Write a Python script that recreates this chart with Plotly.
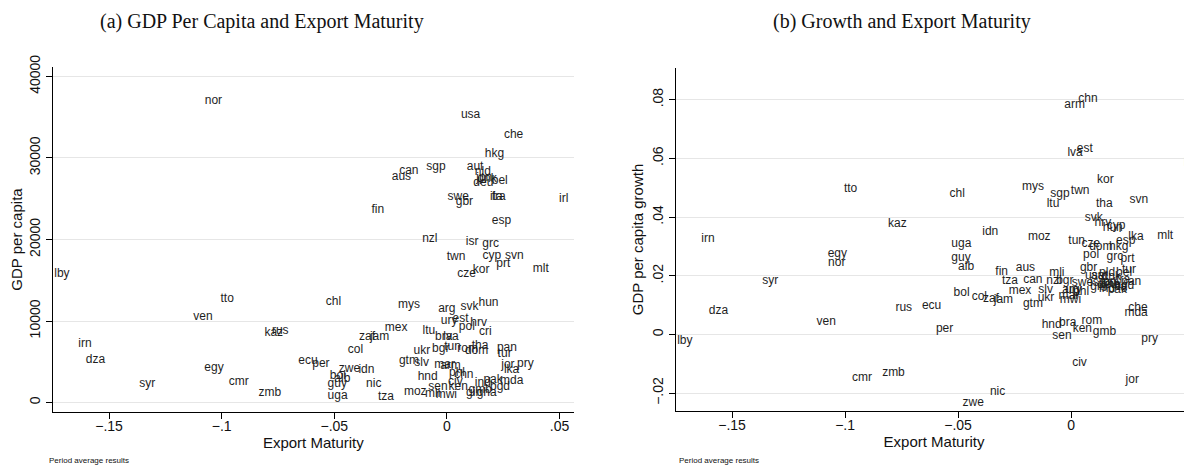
import plotly.graph_objects as go

countries = ["nor","usa","che","hkg","can","aus","sgp","aut","nld","dnk","jpn","deu","bel","swe","gbr","ita","fra","irl","fin","esp",
             "nzl","isr","grc","twn","cyp","svn","prt","kor","cze","mlt","chl","mys","arg","svk","hun","ury","est","pol","hrv","cri",
             "mex","ltu","zaf","jam","bra","lva","ukr","bgr","tun","rom","dom","tha","pan","tur","gtm","slv","mar","arm","jor","pry",
             "lka","hnd","phl","chn","pak","civ","ind","mda","bgd","ken","sen","moz","mli","mwi","gin","gha","gmb","nic","tza","col",
             "ecu","per","zwe","idn","bol","alb","guy","uga","lby","tto","ven","kaz","rus","irn","dza","egy","syr","cmr","zmb"]

maturity = [-0.1075,0.0062,0.0253,0.0168,-0.0212,-0.0245,-0.0092,0.0088,0.0124,0.0135,0.0130,0.0117,0.0199,0.0003,0.0039,0.0191,0.0199,0.0498,-0.0335,0.0199,
            -0.0110,0.0084,0.0157,-0.0001,0.0158,0.0258,0.0219,0.0115,0.0046,0.0381,-0.0538,-0.0217,-0.0039,0.0060,0.0140,-0.0027,0.0025,0.0053,0.0104,0.0142,
            -0.0276,-0.0108,-0.0390,-0.0342,-0.0053,-0.0016,-0.0148,-0.0066,-0.0012,0.0046,0.0080,0.0110,0.0222,0.0225,-0.0213,-0.0145,-0.0056,-0.0030,0.0241,0.0311,
            0.0253,-0.0130,0.0009,0.0032,0.0162,0.0005,0.0124,0.0236,0.0191,0.0007,-0.0083,-0.0191,-0.0097,-0.0050,0.0085,0.0132,0.0096,-0.0359,-0.0306,-0.0440,
            -0.0660,-0.0598,-0.0480,-0.0393,-0.0520,-0.0500,-0.0530,-0.0530,-0.1743,-0.1005,-0.1126,-0.0810,-0.0777,-0.1636,-0.1603,-0.1077,-0.1366,-0.0969,-0.0836]

gdp_pc = [36990,35280,32790,30450,28400,27710,28930,28860,28250,27400,27600,26900,27220,25180,24640,25250,25200,24970,23620,22230,
          20060,19730,19450,17890,18010,18010,16990,16260,15770,16380,12370,11960,11440,11680,12250,10040,10210,9300,9720,8690,
          9180,8770,8070,8000,8000,8000,6360,6530,6850,6530,6360,6930,6650,5950,5130,4810,4600,4480,4560,4720,
          3990,3170,3580,3370,2760,2550,2350,2640,1860,1940,1860,1330,1040,920,1130,1130,1530,2270,710,6440,
          5090,4720,4110,3990,3300,2900,2300,800,15770,12660,10450,8570,8740,7140,5210,4200,2230,2480,1130]

growth = [0.0242,0.0200,0.0089,0.0299,0.0185,0.0225,0.0477,0.0200,0.0210,0.0195,0.0180,0.0170,0.0210,0.0176,0.0228,0.0160,0.0185,0.0585,0.0213,0.0318,
          0.0183,0.0176,0.0263,0.0489,0.0370,0.0458,0.0256,0.0526,0.0308,0.0336,0.0477,0.0501,0.0150,0.0398,0.0361,0.0150,0.0632,0.0270,0.0380,0.0175,
          0.0148,0.0444,0.0120,0.0118,0.0038,0.0619,0.0123,0.0182,0.0318,0.0046,0.0297,0.0444,0.0179,0.0220,0.0103,0.0153,0.0130,0.0782,-0.0156,-0.0014,
          0.0333,0.0032,0.0145,0.0802,0.0150,-0.0099,0.0155,0.0072,0.0165,0.0020,-0.0006,0.0333,0.0210,0.0117,0.0160,0.0170,0.0009,-0.0196,0.0183,0.0127,
          0.0096,0.0020,-0.0235,0.0348,0.0141,0.0229,0.0260,0.0308,-0.0023,0.0494,0.0041,0.0378,0.0089,0.0324,0.0080,0.0274,0.0182,-0.0150,-0.0130]

x_ticks = [-0.15, -0.1, -0.05, 0, 0.05]
x_ticktext = ["\u2212.15", "\u2212.1", "\u2212.05", "0", ".05"]
gdp_ticks = [0, 10000, 20000, 30000, 40000]
gdp_ticktext = ["0", "10000", "20000", "30000", "40000"]
growth_ticks = [-0.02, 0, 0.02, 0.04, 0.06, 0.08]
growth_ticktext = ["\u2212.02", "0", ".02", ".04", ".06", ".08"]

# page is shown with an 8px body margin: lay out in page pixels, convert to figure fractions
OFF = 8
W, H = 1192 - OFF, 466 - OFF
def fx(px):
    return (px - OFF) / W
def fy(py):
    return 1 - (py - OFF) / H

SANS = "Liberation Sans, Arial, sans-serif"
SERIF = "Liberation Serif, Times New Roman, serif"
label_font = dict(family=SANS, size=12, color="#1e1e1e")

fig = go.Figure()
fig.add_trace(go.Scatter(x=maturity, y=gdp_pc, text=countries, mode="text",
                         textposition="middle right", textfont=label_font,
                         xaxis="x", yaxis="y", hoverinfo="skip", showlegend=False, cliponaxis=False))
fig.add_trace(go.Scatter(x=maturity, y=growth, text=countries, mode="text",
                         textposition="middle right", textfont=label_font,
                         xaxis="x2", yaxis="y2", hoverinfo="skip", showlegend=False, cliponaxis=False))

xcommon = dict(tickvals=x_ticks, ticktext=x_ticktext, ticks="outside", ticklen=6, tickwidth=1,
               tickcolor="#000", showline=True, linecolor="#000", linewidth=1, showgrid=False,
               zeroline=False, automargin=False, ticklabelstandoff=-5,
               tickfont=dict(family=SANS, size=14, color="#111"),
               title=dict(text="Export Maturity", font=dict(family=SANS, size=15, color="#111"), standoff=4))
ycommon = dict(ticks="outside", ticklen=6, tickwidth=1, tickcolor="#000", showline=True,
               linecolor="#000", linewidth=1, showgrid=True, gridcolor="#e6e6e6", gridwidth=1,
               zeroline=False, automargin=False, tickangle=-90, tickfont=dict(family=SANS, size=14, color="#111"))

fig.update_layout(
    width=W, height=H, margin=dict(l=0, r=0, t=0, b=0, autoexpand=False),
    paper_bgcolor="white", plot_bgcolor="white",
    xaxis=dict(domain=[fx(52.7), fx(574)], range=[-0.175, 0.0564], anchor="y", **xcommon),
    yaxis=dict(domain=[fy(412.3), fy(66.7)], range=[-1200, 41200], anchor="x",
               tickvals=gdp_ticks, ticktext=gdp_ticktext,
               title=dict(text="GDP per capita", font=dict(family=SANS, size=15, color="#111"), standoff=6),
               **ycommon),
    xaxis2=dict(domain=[fx(676), 1.0], range=[-0.1748, 0.0535], anchor="y2", **xcommon),
    yaxis2=dict(domain=[fy(410.7), fy(68.3)], range=[-0.026, 0.0907], anchor="x2",
                tickvals=growth_ticks, ticktext=growth_ticktext,
                title=dict(text="GDP per capita growth", font=dict(family=SANS, size=15, color="#111"), standoff=3),
                **ycommon),
    annotations=[
        dict(text="(a) GDP Per Capita and Export Maturity", x=fx(262), y=fy(22), xref="paper", yref="paper",
             xanchor="center", yanchor="middle", showarrow=False, font=dict(family=SERIF, size=20, color="#111")),
        dict(text="(b) Growth and Export Maturity", x=fx(902), y=fy(22), xref="paper", yref="paper",
             xanchor="center", yanchor="middle", showarrow=False, font=dict(family=SERIF, size=20, color="#111")),
        dict(text="Period average results", x=fx(47), y=fy(460), xref="paper", yref="paper",
             xanchor="left", yanchor="middle", showarrow=False, font=dict(family=SANS, size=8, color="#111")),
        dict(text="Period average results", x=fx(677), y=fy(460), xref="paper", yref="paper",
             xanchor="left", yanchor="middle", showarrow=False, font=dict(family=SANS, size=8, color="#111")),
    ],
)

fig.write_html("out.html")
